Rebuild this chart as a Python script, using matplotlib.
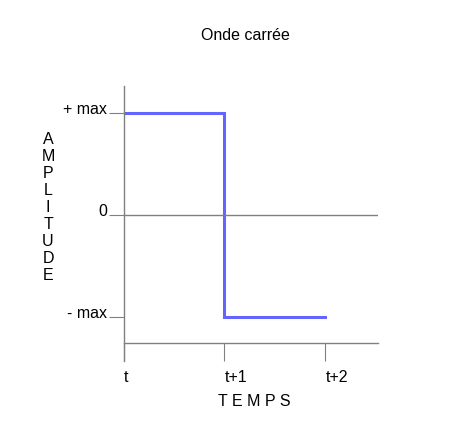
import matplotlib
matplotlib.use("Agg")
import matplotlib.pyplot as plt

plt.rcParams['font.family'] = ['Liberation Sans', 'DejaVu Sans']

# square wave data
temps = [0, 1, 1, 2]
amplitude = [1, 1, -1, -1]
x_ticks = [0, 1, 2]
x_labels = ["t", "t+1", "t+2"]
y_ticks = [1, 0, -1]
y_labels = ["+ max", "0", "- max"]

W, H = 459, 439
fig = plt.figure(figsize=(W / 100, H / 100), dpi=100)

# axes box in pixels (from top-left)
left, right, top, bottom = 123.5, 378, 87, 362
ax = fig.add_axes([left / W, 1 - bottom / H, (right - left) / W, (bottom - top) / H])

gray = "#808080"
blue = "#6464ff"

ax.set_xlim(0, 2.52)
ax.set_ylim(-1.435, 1.268)

ax.plot(temps, amplitude, color=blue, lw=2.2, solid_joinstyle="miter")
ax.axhline(0, color=gray, lw=1.0)

for s in ["top", "right"]:
    ax.spines[s].set_visible(False)
ax.spines["left"].set_color(gray)
ax.spines["bottom"].set_color(gray)
ax.spines["left"].set_linewidth(1.0)
ax.spines["bottom"].set_linewidth(1.0)
ax.spines["bottom"].set_position(("data", -1.258))

ax.set_xticks(x_ticks)
ax.set_xticklabels(x_labels, ha="left")
ax.set_yticks(y_ticks)
ax.set_yticklabels(y_labels, va="baseline")
ax.tick_params(axis="x", direction="out", length=13, width=0.8, color=gray,
               labelsize=11.5, pad=5.5)
ax.tick_params(axis="y", direction="out", length=10.5, width=0.8, color=gray,
               labelsize=11.5, pad=1.5)

fig.text(245 / W, 1 - 35 / H, "Onde carrée", ha="center", va="center", fontsize=11.5)
fig.text(48 / W, 1 - 207.5 / H, "\n".join("AMPLITUDE"), ha="center", va="center",
         fontsize=11.5, linespacing=1.17)
fig.text(254 / W, 1 - 402 / H, "T E M P S", ha="center", va="center", fontsize=11.5)

fig.savefig("out.png", dpi=100)
